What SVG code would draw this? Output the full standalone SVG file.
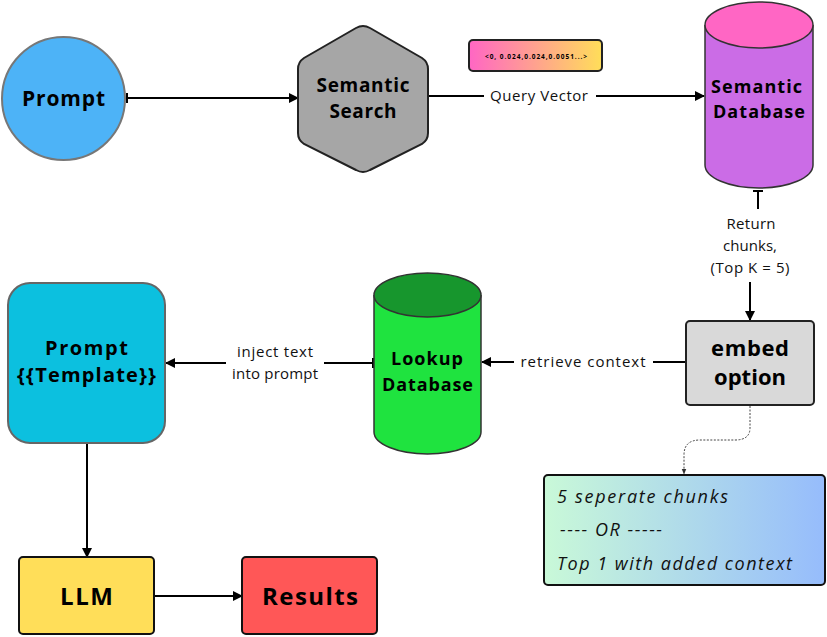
<svg xmlns="http://www.w3.org/2000/svg" width="827" height="637" viewBox="0 0 827 637">
<defs>
<linearGradient id="gVec" x1="0" y1="0" x2="1" y2="0"><stop offset="0" stop-color="#ff66c4"/><stop offset="1" stop-color="#ffde59"/></linearGradient>
<linearGradient id="gOpt" x1="0" y1="0" x2="1" y2="0"><stop offset="0" stop-color="#c9f9d8"/><stop offset="1" stop-color="#96bcfc"/></linearGradient>
<marker id="arr" viewBox="0 0 10 10" refX="9" refY="5" markerWidth="5" markerHeight="5" orient="auto"><path d="M0,0 L10,5 L0,10 z" fill="#000"/></marker>
<marker id="tee" viewBox="0 0 4 10" refX="1" refY="5" markerWidth="2" markerHeight="5" orient="auto"><rect x="0" y="0" width="2" height="10" fill="#000"/></marker>
<marker id="arrS" viewBox="0 0 10 10" refX="9" refY="5" markerWidth="6" markerHeight="6" orient="auto"><path d="M0,1 L10,5 L0,9 z" fill="#333"/></marker>
</defs>
<style>
.b{font-family:"Open Sans","Liberation Sans",sans-serif;font-weight:700;fill:#000;text-anchor:middle}
.l{font-family:"Open Sans","Liberation Sans",sans-serif;font-size:15px;fill:#111;text-anchor:middle}
.i{font-family:"Open Sans","Liberation Sans",sans-serif;font-style:italic;font-size:18px;fill:#111}
.c{fill:none;stroke:#000;stroke-width:2}
</style>
<g id="connectors">
<line class="c" x1="127" y1="98" x2="298" y2="98" marker-start="url(#tee)" marker-end="url(#arr)"/>
<line class="c" x1="428" y1="96" x2="484" y2="96"/>
<line class="c" x1="596" y1="96" x2="704" y2="96" marker-end="url(#arr)"/>
<text class="l" x="539" y="101" textLength="98" lengthAdjust="spacing">Query Vector</text>
<line class="c" x1="758" y1="191" x2="758" y2="209" marker-start="url(#tee)"/>
<line class="c" x1="750" y1="282" x2="750" y2="320" marker-end="url(#arr)"/>
<text class="l" x="751" y="229" textLength="49" lengthAdjust="spacing">Return</text>
<text class="l" x="750" y="251" textLength="54" lengthAdjust="spacing">chunks,</text>
<text class="l" x="750" y="273" textLength="79" lengthAdjust="spacing">(Top K = 5)</text>
<line class="c" x1="686" y1="362" x2="653" y2="362" marker-start="url(#tee)"/>
<line class="c" x1="514" y1="362" x2="482" y2="362" marker-end="url(#arr)"/>
<text class="l" x="583" y="367" textLength="125" lengthAdjust="spacing">retrieve context</text>
<line class="c" x1="373" y1="363" x2="324" y2="363" marker-start="url(#tee)"/>
<line class="c" x1="226" y1="363" x2="166" y2="363" marker-end="url(#arr)"/>
<text class="l" x="275" y="357" textLength="76" lengthAdjust="spacing">inject text</text>
<text class="l" x="275" y="379" textLength="86" lengthAdjust="spacing">into prompt</text>
<line class="c" x1="87" y1="444" x2="87" y2="557" marker-end="url(#arr)"/>
<line class="c" x1="155" y1="596" x2="242" y2="596" marker-end="url(#arr)"/>
<path d="M750,406 V428 Q750,440 735,440 H700 Q684,440 684,455 V474" fill="none" stroke="#444" stroke-width="1" stroke-dasharray="2,1.5" marker-end="url(#arrS)"/>
</g>
<g id="prompt">
<circle cx="63.5" cy="98.5" r="61.5" fill="#4db3f7" stroke="#777" stroke-width="2"/>
<text class="b" x="63.5" y="106" font-size="21" textLength="83" lengthAdjust="spacing">Prompt</text>
</g>
<g id="semantic-search">
<path d="M356,28 Q363,24 370,28 L422,58 Q428,62 428,69 L428,133 Q428,140 422,144 L370,170 Q363,174 356,170 L304,144 Q298,140 298,133 L298,69 Q298,62 304,58 Z" fill="#a6a6a6" stroke="#222" stroke-width="2"/>
<text class="b" x="363" y="92" font-size="19" textLength="93" lengthAdjust="spacing">Semantic</text>
<text class="b" x="363" y="118" font-size="19" textLength="67" lengthAdjust="spacing">Search</text>
</g>
<g id="query-vector">
<rect x="469" y="40" width="133" height="31" rx="4" fill="url(#gVec)" stroke="#222" stroke-width="2"/>
<text class="b" x="536" y="58.5" font-size="6.5" textLength="102" lengthAdjust="spacing">&lt;0, 0.024,0.024,0.0051...&gt;</text>
</g>
<g id="semantic-database">
<path d="M705,25 V165 A54,23 0 0 0 813,165 V25" fill="#cb6ce6" stroke="#333" stroke-width="1.5"/>
<ellipse cx="759" cy="25" rx="54" ry="23" fill="#ff66c4" stroke="#333" stroke-width="1.5"/>
<text class="b" x="756.5" y="93" font-size="18" textLength="91" lengthAdjust="spacing">Semantic</text>
<text class="b" x="759" y="118" font-size="18" textLength="92" lengthAdjust="spacing">Database</text>
</g>
<g id="embed-option">
<rect x="686" y="321" width="128" height="84" rx="4" fill="#d9d9d9" stroke="#222" stroke-width="2"/>
<text class="b" x="750" y="356" font-size="22" textLength="78" lengthAdjust="spacing">embed</text>
<text class="b" x="750" y="385" font-size="22" textLength="72" lengthAdjust="spacing">option</text>
</g>
<g id="lookup-database">
<path d="M374,295 V432 A53.5,22 0 0 0 481,432 V295" fill="#1fe33f" stroke="#333" stroke-width="1.5"/>
<ellipse cx="427.5" cy="295" rx="53.5" ry="22" fill="#17962d" stroke="#333" stroke-width="1.5"/>
<text class="b" x="427" y="365" font-size="18" textLength="72" lengthAdjust="spacing">Lookup</text>
<text class="b" x="427.5" y="391" font-size="18" textLength="91" lengthAdjust="spacing">Database</text>
</g>
<g id="prompt-template">
<rect x="8" y="283" width="157" height="160" rx="22" fill="#0cc0df" stroke="#666" stroke-width="2"/>
<text class="b" x="86.5" y="355" font-size="20" textLength="83" lengthAdjust="spacing">Prompt</text>
<text class="b" x="86.5" y="382" font-size="20" textLength="139" lengthAdjust="spacing">{{Template}}</text>
</g>
<g id="llm">
<rect x="19" y="557" width="135" height="77" rx="4" fill="#ffde59" stroke="#111" stroke-width="2"/>
<text class="b" x="86.5" y="605" font-size="24" textLength="53" lengthAdjust="spacing">LLM</text>
</g>
<g id="results">
<rect x="242" y="557" width="135" height="77" rx="4" fill="#ff5757" stroke="#111" stroke-width="2"/>
<text class="b" x="310" y="605" font-size="24" textLength="96" lengthAdjust="spacing">Results</text>
</g>
<g id="options">
<rect x="544" y="475" width="281" height="110" rx="4" fill="url(#gOpt)" stroke="#111" stroke-width="2"/>
<text class="i" x="557" y="503" textLength="171" lengthAdjust="spacing">5 seperate chunks</text>
<text class="i" x="560" y="536" textLength="102" lengthAdjust="spacing">---- OR -----</text>
<text class="i" x="557" y="570" textLength="235" lengthAdjust="spacing">Top 1 with added context</text>
</g>
</svg>
